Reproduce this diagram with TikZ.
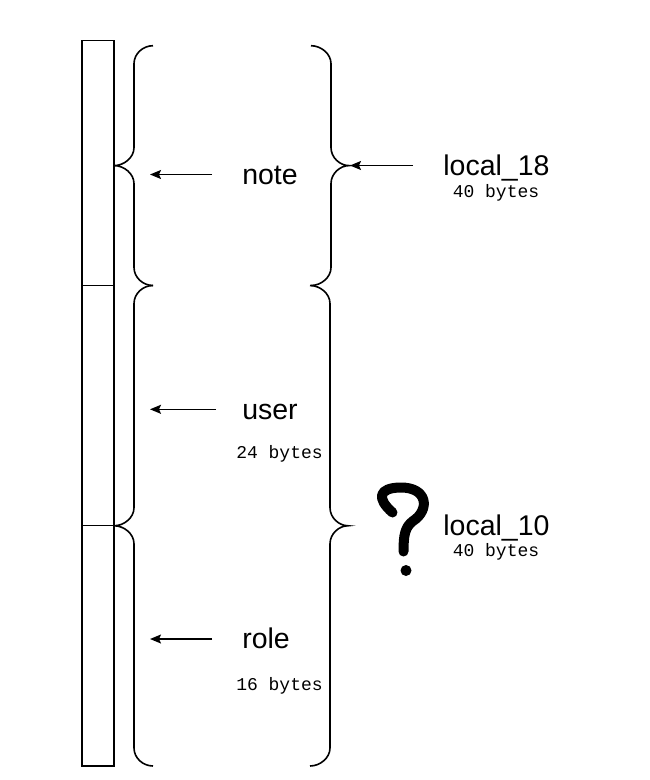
\documentclass[tikz,border=0pt]{standalone}
\usepackage{fontspec}
\setmainfont{Liberation Sans}
\newfontfamily\monofont{Liberation Mono}
\usetikzlibrary{arrows.meta}
\newcommand\openbrace[3]{%
  \pgfmathsetmacro\bm{(#2+#3)/2}%
  \draw[bracestyle] ({#1+39},#2) .. controls ({#1+29},#2) and ({#1+20},{#2+8}) .. ({#1+20},{#2+18})
    -- ({#1+20},{\bm-18}) .. controls ({#1+20},{\bm-8}) and ({#1+10},\bm) .. (#1,\bm)
    .. controls ({#1+10},\bm) and ({#1+20},{\bm+8}) .. ({#1+20},{\bm+18})
    -- ({#1+20},{#3-18}) .. controls ({#1+20},{#3-8}) and ({#1+29},#3) .. ({#1+39},#3);}
\newcommand\closebrace[3]{%
  \pgfmathsetmacro\bm{(#2+#3)/2}%
  \draw[bracestyle] ({#1-38},#2) .. controls ({#1-28},#2) and ({#1-18},{#2+8}) .. ({#1-18},{#2+18})
    -- ({#1-18},{\bm-18}) .. controls ({#1-18},{\bm-8}) and ({#1-9},\bm) .. (#1,\bm)
    .. controls ({#1-9},\bm) and ({#1-18},{\bm+8}) .. ({#1-18},{\bm+18})
    -- ({#1-18},{#3-18}) .. controls ({#1-18},{#3-8}) and ({#1-28},#3) .. ({#1-38},#3);}
\begin{document}
\begin{tikzpicture}[x=1pt,y=-1pt,
  bracestyle/.style={line width=1.6pt},
  cell/.style={line width=1.5pt},
  arr/.style={line width=1.5pt,-{Stealth[length=11pt,width=9pt,inset=2pt]}},
  lbl/.style={inner sep=0pt,anchor=base west,font=\fontsize{28.5}{32}\selectfont},
  sz/.style={inner sep=0pt,anchor=base,font=\monofont\fontsize{18}{20}\selectfont}]
\useasboundingbox (0,0) rectangle (650,780);
% memory column
\draw[cell] (82,40.5) rectangle (114,285.7);
\draw[cell] (82,285.7) rectangle (114,525.7);
\draw[cell] (82,525.7) rectangle (114,766);
% braces
\openbrace{114}{45.7}{285.5}
\openbrace{114}{285.5}{766}
\closebrace{349}{45.7}{285.5}
\closebrace{348}{285.5}{766}
% labels
\node[lbl] (note) at (242.1,184.3) {note};
\node[lbl] (user) at (242.1,419.3) {user};
\node[lbl] (role) at (242.1,648.3) {role};
\node[sz] (userSize) at (279.5,458.3) {24 bytes};
\node[sz] (roleSize) at (279.5,690.7) {16 bytes};
\node[lbl] (l18) at (443.2,175) {local\_18};
\node[sz] (l18Size) at (496,197.7) {40 bytes};
\node[lbl] (l10) at (443.2,535) {local\_10};
\node[sz] (l10Size) at (496,556.7) {40 bytes};
% arrows
\coordinate (noteTail) at (212,174.5);
\coordinate (noteHead) at (150,174.5);
\coordinate (userTail) at (216,409.3);
\coordinate (userHead) at (150,409.3);
\coordinate (roleTail) at (212,639);
\coordinate (roleHead) at (150,639);
\coordinate (l18Tail) at (413,165.5);
\coordinate (l18Head) at (350,165.5);
\draw[arr] (noteTail) -- (noteHead);
\draw[arr] (userTail) -- (userHead);
\draw[arr] (roleTail) -- (roleHead);
\draw[arr] (l18Tail) -- (l18Head);
% question mark
\draw[line width=10pt,line cap=round,line join=round]
  (392.5,512.5) .. controls (376,498) and (379,488) .. (400,487.5)
  .. controls (428,487) and (430,510) .. (413,521)
  .. controls (405,527) and (403.5,535) .. (403.5,551.5);
\fill (406,570.5) circle[radius=5.5pt];
\end{tikzpicture}
\end{document}
